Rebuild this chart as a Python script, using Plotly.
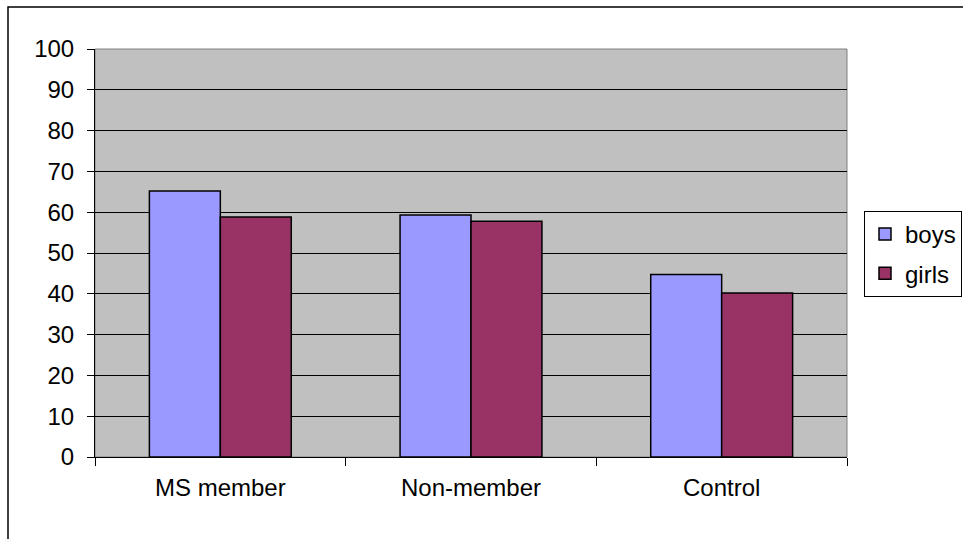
import plotly.graph_objects as go

categories = ["MS member", "Non-member", "Control"]
boys = [65.2, 59.3, 44.7]
girls = [58.8, 57.8, 40.2]
y_ticks = list(range(0, 101, 10))

W, H = 963, 539
L, R, T, B = 95, W - 847, 49, H - 457
pw, ph = W - L - R, H - T - B

font = dict(family="Liberation Sans, Arial, sans-serif", size=24, color="black")

fig = go.Figure()
fig.add_trace(go.Bar(name="boys", x=categories, y=boys, legendgroup="b",
                     marker=dict(color="#9999FF", line=dict(color="black", width=1.5))))
fig.add_trace(go.Bar(name="girls", x=categories, y=girls, legendgroup="g",
                     marker=dict(color="#993366", line=dict(color="black", width=1.5))))

fig.update_layout(
    width=W, height=H,
    margin=dict(l=L, r=R, t=T, b=B, pad=0, autoexpand=False),
    paper_bgcolor="white",
    plot_bgcolor="#C0C0C0",
    barmode="group",
    bargap=0.434,
    bargroupgap=0,
    font=font,
    showlegend=True,
    legend=dict(x=(962 - L) / pw, y=(457 - 211) / ph, xanchor="right", yanchor="top",
                bordercolor="black", borderwidth=1, bgcolor="white",
                font=font, itemwidth=30, tracegroupgap=5),
    xaxis=dict(showgrid=False, showline=True, linecolor="black", linewidth=1,
               ticks="outside", ticklen=8, tickcolor="black", tickson="boundaries",
               ticklabelstandoff=9, zeroline=False),
    yaxis=dict(range=[0, 100], tickvals=y_ticks, showgrid=True, gridcolor="black",
               gridwidth=1, showline=True, linecolor="black", linewidth=1,
               ticks="outside", ticklen=7, tickcolor="black", zeroline=False,
               ticklabelstandoff=8),
    shapes=[
        dict(type="rect", xref="paper", yref="paper", x0=0, x1=1, y0=0, y1=1,
             line=dict(color="#808080", width=1), layer="below"),
        dict(type="rect", xref="paper", yref="paper",
             x0=(8 - L) / pw, x1=(W + 20 - L) / pw,
             y0=(457 - (H + 20)) / ph, y1=(457 - 7) / ph,
             line=dict(color="black", width=1.5), fillcolor="rgba(0,0,0,0)"),
    ],
)

fig.write_html("out.html")
